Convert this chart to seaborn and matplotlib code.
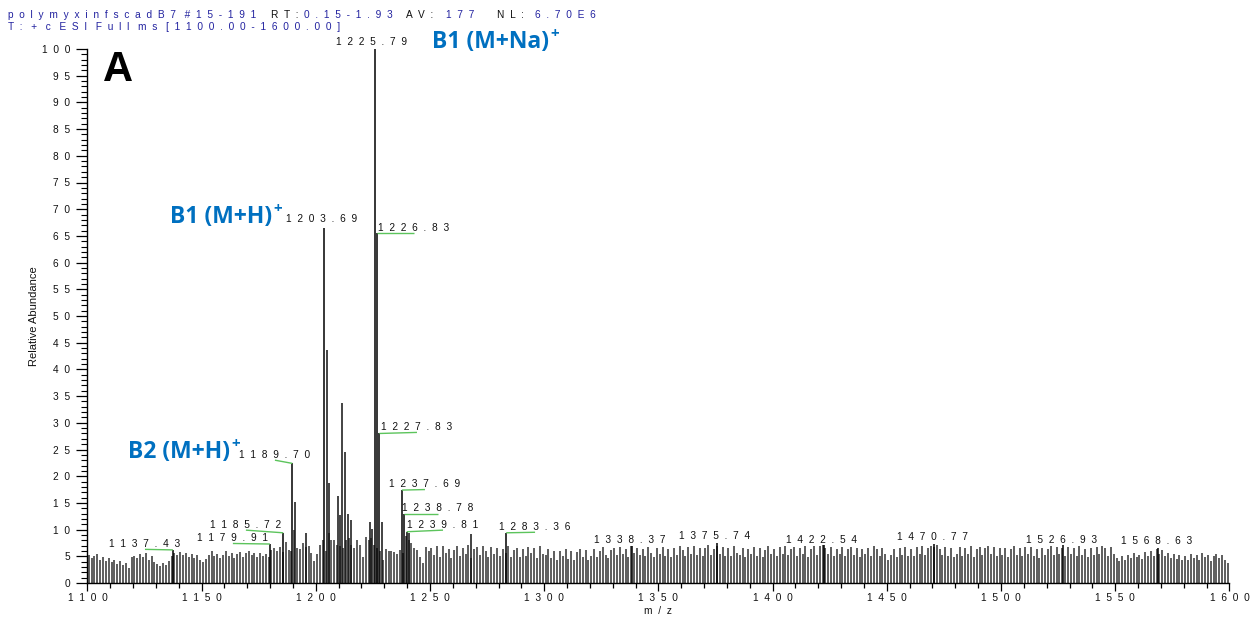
import numpy as np
import pandas as pd
import matplotlib
matplotlib.use("Agg")
import matplotlib.pyplot as plt
import seaborn as sns
from matplotlib.ticker import MultipleLocator, FixedLocator, FixedFormatter

# ---------------- data ----------------
# baseline noise peaks: one value every 1.25 m/z starting at 1100.6 (8 per 10 m/z)
noise_start = 1100.6
noise_step = 1.25
noise_heights = [
    5.2, 4.6, 5.0, 5.4, 4.4, 4.8, 4.2, 4.6,   # 1100
    4.0, 4.4, 3.6, 4.2, 3.4, 3.8, 2.9, 4.8,   # 1110
    5.1, 4.6, 5.4, 4.9, 5.6, 4.4, 5.0, 3.9,   # 1120
    3.6, 3.1, 3.8, 3.3, 4.2, 5.0, 5.6, 5.3,   # 1130
    5.8, 5.2, 5.6, 4.9, 5.5, 4.6, 5.2, 4.3,   # 1140
    4.0, 4.5, 5.2, 6.0, 5.0, 5.5, 4.6, 5.3,   # 1150
    6.0, 5.0, 5.6, 4.7, 5.4, 5.8, 4.9, 5.6,   # 1160
    6.0, 5.2, 5.7, 4.9, 5.6, 5.1, 5.5, 4.8,   # 1170
    6.2, 6.5, 5.9, 6.8, 5.8, 7.6, 6.2, 6.0,   # 1180
    10.0, 6.5, 6.3, 7.4, 6.8, 7.0, 5.6, 4.2,  # 1190
    5.5, 7.1, 8.0, 6.0, 9.3, 8.0, 8.0, 7.2,   # 1200
    7.0, 6.5, 8.0, 8.4, 7.1, 6.5, 8.0, 7.1,   # 1210
    4.9, 8.7, 8.0, 8.4, 7.1, 6.5, 6.0, 4.3,   # 1220
    6.3, 5.9, 6.0, 5.8, 5.5, 6.1, 5.7, 8.8,   # 1230
    8.0, 7.4, 6.5, 6.2, 4.9, 3.7, 6.8, 5.9,   # 1240
    6.6, 5.2, 6.9, 4.8, 7.0, 5.6, 6.4, 4.7,   # 1250
    6.2, 6.9, 5.0, 6.5, 5.5, 7.1, 4.6, 6.3,   # 1260
    6.8, 5.3, 7.0, 6.0, 4.9, 6.8, 5.5, 6.6,   # 1270
    5.1, 6.4, 5.6, 6.9, 4.8, 6.2, 6.6, 4.9,   # 1280
    6.4, 5.0, 6.8, 5.6, 6.5, 4.6, 6.9, 5.4,   # 1290
    5.2, 6.3, 4.6, 6.0, 4.4, 5.9, 5.0, 6.4,   # 1300
    4.5, 6.0, 4.3, 5.8, 6.3, 4.8, 6.1, 4.4,   # 1310
    5.1, 6.4, 4.8, 6.0, 6.7, 5.2, 4.6, 6.2,   # 1320
    6.5, 5.2, 6.8, 5.5, 6.3, 4.9, 6.9, 5.6,   # 1330
    6.6, 5.3, 6.4, 5.0, 6.8, 5.6, 4.8, 6.5,   # 1340
    5.4, 6.7, 5.0, 6.3, 4.9, 6.6, 5.3, 6.9,   # 1350
    6.2, 5.1, 6.8, 5.5, 7.0, 5.3, 6.5, 5.0,   # 1360
    6.6, 7.1, 5.3, 6.4, 6.9, 5.5, 6.7, 5.1,   # 1370
    6.5, 5.0, 6.9, 5.7, 5.2, 6.6, 4.9, 6.4,   # 1380
    5.5, 6.8, 5.1, 6.5, 4.8, 6.2, 6.9, 5.4,   # 1390
    6.4, 5.0, 6.7, 5.4, 6.9, 5.2, 6.3, 6.8,   # 1400
    5.1, 6.6, 5.5, 6.9, 4.9, 6.4, 7.0, 5.3,   # 1410
    6.9, 7.2, 6.5, 5.5, 6.8, 5.1, 6.4, 5.4,   # 1420
    6.7, 5.0, 6.3, 6.8, 5.2, 6.5, 4.9, 6.3,   # 1430
    5.4, 6.6, 5.1, 7.0, 6.4, 5.0, 6.5, 5.5,   # 1440
    4.3, 5.2, 6.3, 4.9, 6.5, 5.3, 6.8, 5.0,   # 1450
    6.4, 5.1, 6.7, 5.5, 6.9, 5.3, 6.6, 7.0,   # 1460
    6.8, 7.1, 6.3, 5.2, 6.7, 5.1, 6.5, 4.9,   # 1470
    5.5, 6.7, 5.0, 6.5, 5.4, 6.9, 4.8, 6.3,   # 1480
    6.8, 5.2, 6.6, 7.0, 5.5, 6.7, 5.0, 6.5,   # 1490
    5.3, 6.6, 4.9, 6.4, 6.9, 5.2, 6.5, 5.1,   # 1500
    6.7, 5.4, 6.8, 5.0, 6.4, 4.7, 6.6, 5.3,   # 1510
    6.4, 6.9, 5.2, 6.7, 5.4, 6.5, 5.1, 6.8,   # 1520
    5.4, 6.6, 5.0, 7.0, 5.3, 6.4, 4.9, 6.6,   # 1530
    5.2, 6.7, 5.5, 6.9, 6.5, 5.1, 6.8, 5.4,   # 1540
    4.6, 4.1, 5.1, 4.4, 5.3, 4.7, 5.6, 4.9,   # 1550
    5.3, 4.5, 5.8, 5.0, 6.0, 5.1, 6.3, 5.4,   # 1560
    6.1, 5.0, 5.7, 4.7, 5.4, 4.5, 5.3, 4.4,   # 1570
    5.1, 4.3, 5.5, 4.7, 5.3, 4.4, 5.6, 4.8,   # 1580
    5.3, 4.2, 5.1, 5.5, 4.6, 5.2, 4.3, 3.8,   # 1590
]

# labelled peaks
labeled_mz = [1137.43, 1179.91, 1185.72, 1189.70, 1203.69, 1225.79, 1226.83, 1227.83,
              1237.69, 1238.78, 1239.81, 1283.36, 1338.37, 1375.74, 1422.54, 1470.77,
              1526.93, 1568.63]
labeled_h = [6.2, 7.3, 9.4, 22.4, 66.4, 100.0, 65.5, 28.0,
             17.4, 13.0, 9.6, 9.4, 7.0, 7.4, 7.1, 7.3,
             7.1, 6.6]
# label text centres (m/z, relative abundance)
label_cx = [1125.2, 1163.7, 1169.4, 1182.1, 1202.7, 1224.6, 1243.0, 1244.3,
            1247.8, 1253.5, 1255.7, 1296.0, 1337.6, 1374.8, 1421.2, 1469.8,
            1526.3, 1568.3]
label_cy = [7.3, 8.4, 10.9, 24.0, 68.2, 101.3, 66.5, 29.2,
            18.5, 14.0, 10.9, 10.5, 8.1, 8.8, 8.1, 8.6,
            8.1, 7.9]

# other (unlabelled) significant peaks
other_mz = [1190.9, 1195.7, 1204.7, 1205.9, 1209.8, 1210.8, 1211.6, 1212.6,
            1213.9, 1215.4, 1223.9, 1224.8, 1228.8, 1240.8, 1267.8]
other_h = [15.2, 9.3, 43.6, 18.7, 16.2, 12.7, 33.8, 24.5,
           13.0, 11.8, 11.5, 10.2, 11.5, 9.4, 9.1]

# ion annotations
ion_text = ["B1 (M+Na)", "B1 (M+H)", "B2 (M+H)"]
ion_x = [1250.9, 1136.1, 1117.8]
ion_y = [101.3, 68.5, 24.5]

header_pieces = [
    ("polymyxinfscadB7 #15-191", "blue", 8),
    ("RT:", "black", 271),
    ("0.15-1.93", "blue", 304),
    ("AV:", "black", 406),
    ("177", "blue", 446),
    ("NL:", "black", 497),
    ("6.70E6", "blue", 535),
]
header_line2 = "T: + c ESI Full ms [1100.00-1600.00]"

x_ticks = list(range(1100, 1601, 50))
y_ticks = list(range(0, 101, 5))


def spaced(s):
    """Emulate the wide letter spacing of the instrument software."""
    return "   ".join("  ".join(w) for w in s.split(" "))


# ---------------- style ----------------
sns.set_theme(style="ticks")
plt.rcParams["font.family"] = ["Liberation Sans", "DejaVu Sans"]

W, H = 1256, 620
fig = plt.figure(figsize=(W / 100, H / 100), dpi=100)
x0_px, x1_px, y0_px, y1_px = 87.4, 1229.4, 583, 49
ax = fig.add_axes([x0_px / W, (H - y0_px) / H, (x1_px - x0_px) / W, (y0_px - y1_px) / H])

noise = pd.DataFrame({
    "mz": noise_start + noise_step * np.arange(len(noise_heights)),
    "h": noise_heights,
})
ax.vlines(noise["mz"], 0, noise["h"], color="#3a3a3a", lw=1.15)

ax.vlines(other_mz, 0, other_h, color="#111111", lw=1.1)
ax.vlines(labeled_mz, 0, labeled_h, color="#000000", lw=1.1)

label_fs = 7.3
for mz, h, cx, cy in zip(labeled_mz, labeled_h, label_cx, label_cy):
    ax.text(cx, cy, spaced(f"{mz:.2f}"), ha="center", va="center",
            fontsize=label_fs, color="#111111", clip_on=False)
    if abs(cx - mz) > 3:
        ax.plot([mz, cx], [h, cy - 1.0], color="#5cc45c", lw=1.0,
                solid_capstyle="butt", clip_on=False)

blue = "#0070C0"
for txt, x, y in zip(ion_text, ion_x, ion_y):
    t = ax.text(x, y, txt, ha="left", va="center", fontsize=16.5,
                fontweight="bold", color=blue, family=["Open Sans", "DejaVu Sans"],
                clip_on=False)
    ax.annotate("+", xy=(1.0, y + 1.6), xycoords=(t, "data"),
                xytext=(1.0, 0), textcoords="offset points",
                ha="left", va="center", fontsize=11, fontweight="bold",
                color=blue, family=["Open Sans", "DejaVu Sans"], annotation_clip=False)

ax.text(1113.4, 96.1, "A", ha="center", va="center", fontsize=30,
        fontweight="bold", color="black")

# axes
ax.set_xlim(1100, 1600)
ax.set_ylim(0, 100)
sns.despine(ax=ax)
for sp in ("left", "bottom"):
    ax.spines[sp].set_color("black")
    ax.spines[sp].set_linewidth(1.0)

ax.xaxis.set_major_locator(FixedLocator(x_ticks))
ax.xaxis.set_major_formatter(FixedFormatter([spaced(str(v)) for v in x_ticks]))
ax.xaxis.set_minor_locator(MultipleLocator(10))
ax.yaxis.set_major_locator(FixedLocator(y_ticks))
ax.yaxis.set_major_formatter(FixedFormatter([spaced(str(v)) for v in y_ticks]))
ax.yaxis.set_minor_locator(MultipleLocator(1))

ax.tick_params(axis="x", which="major", length=6, width=0.9, color="black",
               labelsize=label_fs, labelcolor="#111111", pad=1.5, direction="out")
ax.tick_params(axis="x", which="minor", length=3.8, width=0.9, color="black", direction="out")
ax.tick_params(axis="y", which="major", length=8, width=0.9, color="black",
               labelsize=label_fs, labelcolor="#111111", pad=4.5, direction="out")
ax.tick_params(axis="y", which="minor", length=4, width=0.8, color="black", direction="out")

ax.set_xlabel(spaced("m/z"), fontsize=label_fs, color="#111111", labelpad=2)
ax.set_ylabel("Relative Abundance", fontsize=8, color="#111111", labelpad=2)
ax.grid(False)
ax.set_facecolor("white")

# header
hdr_blue = "#2323a0"
col = {"blue": hdr_blue, "black": "#111111"}
for txt, c, xpx in header_pieces:
    fig.text(xpx / W, 1 - 15 / H, spaced(txt), ha="left", va="center",
             fontsize=label_fs, color=col[c])
fig.text(8 / W, 1 - 27 / H, spaced(header_line2), ha="left", va="center",
         fontsize=label_fs, color=hdr_blue)

fig.savefig("out.png", dpi=100, facecolor="white")
